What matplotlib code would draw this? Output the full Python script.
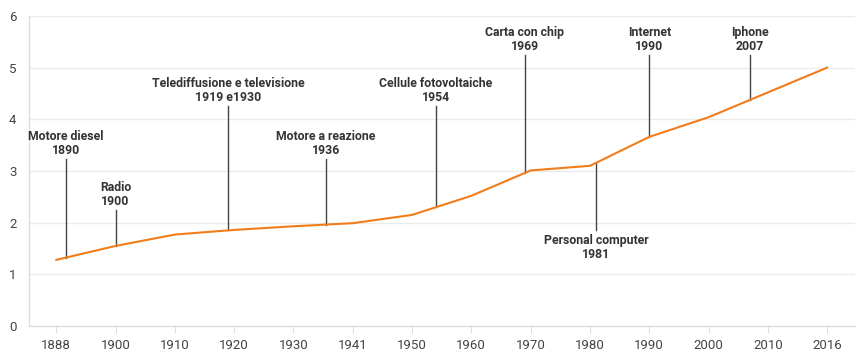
import numpy as np
import matplotlib.pyplot as plt

# Index series over time
years = [1888, 1900, 1910, 1920, 1930, 1941, 1950, 1960, 1970, 1980, 1990, 2000, 2010, 2016]
values = [1.28, 1.55, 1.77, 1.86, 1.93, 1.99, 2.15, 2.52, 3.01, 3.10, 3.66, 4.04, 4.52, 5.0]

# Inventions: label, year shown, year used for placement, label height
events = ["Motore diesel", "Radio", "Telediffusione e televisione", "Motore a reazione",
          "Cellule fotovoltaiche", "Carta con chip", "Personal computer", "Internet", "Iphone"]
event_labels = ["1890", "1900", "1919 e1930", "1936", "1954", "1969", "1981", "1990", "2007"]
event_years = [1890, 1900, 1919, 1936, 1954, 1969, 1981, 1990, 2007]
event_heights = [3.24, 2.25, 4.26, 3.24, 4.26, 5.25, 1.85, 5.25, 5.25]

plt.rcParams['font.family'] = ['Roboto', 'DejaVu Sans']
fig = plt.figure(figsize=(8.64, 3.54), dpi=100)
ax = fig.add_axes([0.0336, 0.079, 0.956, 0.876])

idx = np.arange(len(years))
ax.plot(idx, values, color='#f07d1a', lw=1.5, zorder=3)

for name, lab, yr, h in zip(events, event_labels, event_years, event_heights):
    x = np.interp(yr, years, idx)
    y = np.interp(x, idx, values)
    ax.plot([x, x], [y, h], color='#444444', lw=1.0, zorder=2)
    if h > y:
        ax.text(x, h + 0.04, f"{name}\n{lab}", ha='center', va='bottom', fontsize=8.8,
                fontweight='bold', color='#333333', linespacing=1.1)
    else:
        ax.text(x, h - 0.06, f"{name}\n{lab}", ha='center', va='top', fontsize=8.8,
                fontweight='bold', color='#333333', linespacing=1.1)

ax.set_xlim(-0.46, 13.47)
ax.set_ylim(0, 6)
ax.set_xticks(idx)
ax.set_xticklabels([str(y) for y in years])
ax.set_yticks(range(7))
ax.grid(axis='y', color='#ebebeb', lw=1)
ax.set_axisbelow(True)
for s in ['top', 'right']:
    ax.spines[s].set_visible(False)
for s in ['left', 'bottom']:
    ax.spines[s].set_color('#dddddd')
    ax.spines[s].set_linewidth(1)
ax.tick_params(axis='x', length=5, color='#dddddd', labelsize=9.5, labelcolor='#444444', pad=4)
ax.tick_params(axis='y', length=0, labelsize=9.5, labelcolor='#444444', pad=9)

fig.savefig('out.png', dpi=100)
